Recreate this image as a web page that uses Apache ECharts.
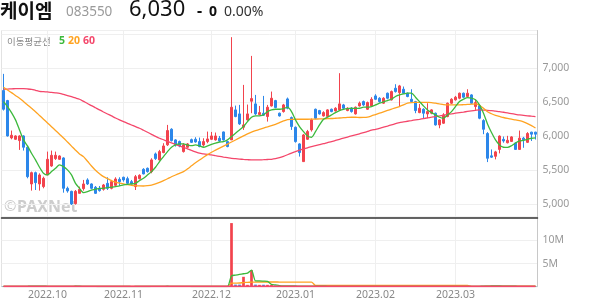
<!DOCTYPE html>
<html><head><meta charset="utf-8">
<script src="https://cdn.jsdelivr.net/npm/echarts@6/dist/echarts.min.js"></script>
<style>html,body{margin:0;padding:0;background:#fff}#c{width:594px;height:304px}</style>
</head><body><div id="c"></div>
<script>
const categories = [
'2022.09.16','2022.09.19','2022.09.20','2022.09.21','2022.09.22','2022.09.23','2022.09.26','2022.09.27','2022.09.28','2022.09.29','2022.09.30',
'2022.10.04','2022.10.05','2022.10.06','2022.10.07','2022.10.11','2022.10.12','2022.10.13','2022.10.14','2022.10.17','2022.10.18','2022.10.19','2022.10.20','2022.10.21','2022.10.24','2022.10.25','2022.10.26','2022.10.27','2022.10.28','2022.10.31',
'2022.11.01','2022.11.02','2022.11.03','2022.11.04','2022.11.07','2022.11.08','2022.11.09','2022.11.10','2022.11.11','2022.11.14','2022.11.15','2022.11.16','2022.11.17','2022.11.18','2022.11.21','2022.11.22','2022.11.23','2022.11.24','2022.11.25','2022.11.28','2022.11.29','2022.11.30',
'2022.12.01','2022.12.02','2022.12.05','2022.12.06','2022.12.07','2022.12.08','2022.12.09','2022.12.12','2022.12.13','2022.12.14','2022.12.15','2022.12.16','2022.12.19','2022.12.20','2022.12.21','2022.12.22','2022.12.23','2022.12.26','2022.12.27','2022.12.28','2022.12.29',
'2023.01.02','2023.01.03','2023.01.04','2023.01.05','2023.01.06','2023.01.09','2023.01.10','2023.01.11','2023.01.12','2023.01.13','2023.01.16','2023.01.17','2023.01.18','2023.01.19','2023.01.20','2023.01.25','2023.01.26','2023.01.27','2023.01.30','2023.01.31',
'2023.02.01','2023.02.02','2023.02.03','2023.02.06','2023.02.07','2023.02.08','2023.02.09','2023.02.10','2023.02.13','2023.02.14','2023.02.15','2023.02.16','2023.02.17','2023.02.20','2023.02.21','2023.02.22','2023.02.23','2023.02.24','2023.02.27','2023.02.28',
'2023.03.02','2023.03.03','2023.03.06','2023.03.07','2023.03.08','2023.03.09','2023.03.10','2023.03.13','2023.03.14','2023.03.15','2023.03.16','2023.03.17','2023.03.20','2023.03.21','2023.03.22','2023.03.23','2023.03.24','2023.03.27','2023.03.28','2023.03.29','2023.03.30'
];
// [open, close, low, high]
const ohlc = [
[6671,6396,6377,6916],[6524,6004,5995,6534],[5975,6014,5955,6083],[5955,6004,5946,6014],[5936,6004,5799,6014],[6004,5838,5789,6014],[5838,5406,5382,5857],[5299,5465,5201,5480],[5465,5318,5210,5480],[5299,5431,5201,5455],
[5260,5382,5235,5406],[5431,5661,5431,5774],[5563,5720,5550,5789],[5671,5720,5652,5774],[5661,5710,5652,5720],[5681,5235,5171,5691],[5235,5196,5171,5260],[5190,5005,4990,5200],[5010,5190,4995,5210],[5161,5220,5161,5260],
[5230,5299,5201,5358],[5358,5299,5284,5382],[5299,5235,5220,5308],[5250,5161,5152,5269],[5235,5201,5186,5269],[5220,5284,5201,5299],[5308,5235,5210,5397],[5235,5333,5220,5358],[5279,5372,5260,5397],[5367,5333,5269,5397],
[5397,5358,5333,5406],[5377,5308,5299,5406],[5333,5299,5290,5358],[5260,5406,5210,5431],[5377,5426,5367,5440],[5514,5446,5440,5530],[5529,5480,5465,5540],[5480,5652,5456,5676],[5740,5671,5652,5760],[5652,5774,5642,5799],
[5760,5857,5750,5897],[5873,6083,5857,6166],[6103,5936,5922,6117],[5946,5873,5848,5956],[5922,5857,5838,5936],[5774,5873,5760,5897],[5838,5887,5830,5900],[5950,5910,5900,5965],[5955,5916,5906,5985],[5921,5848,5838,5980],
[5872,5921,5848,5970],[5921,5960,5897,6068],[5955,6004,5946,6063],[5946,6004,5936,6054],[5970,5931,5916,6004],[6063,5946,5936,6068],[5921,5848,5838,5931],[5946,6426,5946,7455],[6387,6289,6279,6450],[6328,6181,6166,6460],
[6132,6166,6093,6754],[6240,6328,6230,6465],[6514,6553,6338,7180],[6475,6328,6313,6607],[6318,6347,6308,6445],[6338,6308,6298,6592],[6289,6426,6215,6460],[6445,6558,6436,6656],[6524,6421,6411,6534],[6338,6298,6289,6347],
[6362,6460,6347,6475],[6548,6411,6396,6568],[6274,6142,6093,6289],[6132,5921,5906,6142],[5887,5760,5701,5897],[5627,6019,5622,6034],[5955,6068,5946,6093],[6093,6240,6068,6260],[6396,6264,6250,6406],[6377,6328,6318,6387],
[6298,6347,6289,6367],[6289,6387,6279,6396],[6396,6362,6352,6406],[6372,6411,6362,6426],[6387,6475,6377,6926],[6460,6411,6396,6475],[6377,6411,6367,6426],[6411,6362,6347,6426],[6328,6426,6318,6436],[6445,6485,6436,6509],
[6509,6460,6445,6524],[6396,6494,6387,6509],[6445,6543,6436,6573],[6592,6543,6534,6617],[6558,6509,6494,6573],[6485,6558,6475,6573],[6632,6558,6543,6641],[6534,6656,6524,6671],[6705,6656,6641,6764],[6641,6739,6436,6754],
[6690,6632,6622,6730],[6632,6583,6573,6641],[6543,6509,6494,6690],[6509,6377,6338,6519],[6347,6411,6338,6475],[6396,6338,6264,6411],[6328,6362,6264,6485],[6338,6387,6323,6396],[6338,6166,6156,6347],[6166,6240,6117,6250],
[6191,6313,6181,6338],[6289,6485,6279,6494],[6485,6543,6475,6558],[6534,6573,6524,6592],[6558,6632,6543,6641],[6632,6573,6558,6641],[6583,6632,6573,6690],[6607,6485,6475,6617],[6436,6494,6387,6534],[6450,6264,6250,6465],
[6230,6102,6030,6250],[6040,5676,5620,6060],[5712,5692,5680,5806],[5705,5770,5660,5785],[5806,6002,5748,6012],[5954,5930,5905,5995],[5904,5940,5895,6006],[5924,5990,5915,6000],[5900,5806,5800,5910],[5806,5972,5800,6083],
[5972,5948,5830,5990],[5910,6040,5900,6060],[6060,6030,5930,6065],[6060,6030,5951,6065]
];
const ma5 = [
6509,6436,6347,6240,6093,5946,5857,5750,5652,5544,
5456,5431,5480,5529,5578,5554,5505,5431,5308,5235,
5171,5186,5210,5220,5235,5235,5245,5250,5260,5269,
5284,5294,5299,5308,5348,5382,5431,5480,5544,5627,
5701,5774,5838,5872,5887,5887,5872,5862,5872,5857,
5838,5857,5880,5900,5915,5921,5946,5995,6044,6093,
6142,6215,6279,6298,6300,6313,6362,6387,6396,6396,
6406,6426,6362,6240,6142,6068,6004,5985,6068,6166,
6249,6279,6313,6347,6377,6396,6406,6411,6408,6411,
6426,6426,6436,6460,6485,6504,6524,6543,6583,6607,
6622,6632,6632,6573,6509,6445,6387,6347,6313,6279,
6264,6313,6362,6436,6509,6543,6568,6558,6534,6460,
6338,6181,6054,5946,5872,5838,5835,5860,5900,5930,
5940,5955,5970,5975
];
const ma20 = [
6720,6680,6640,6598,6558,6510,6460,6410,6360,6305,
6250,6195,6140,6085,6030,5975,5915,5855,5795,5740,
5700,5632,5563,5500,5450,5406,5377,5348,5325,5310,
5299,5290,5280,5274,5270,5269,5274,5282,5300,5322,
5348,5375,5405,5430,5455,5480,5520,5565,5610,5650,
5690,5730,5765,5795,5825,5855,5885,5915,5945,5975,
6005,6035,6060,6082,6102,6120,6137,6155,6175,6200,
6225,6245,6248,6249,6249,6249,6249,6250,6252,6254,
6256,6258,6260,6264,6268,6272,6276,6279,6279,6275,
6276,6281,6298,6318,6338,6358,6378,6398,6418,6436,
6460,6485,6494,6496,6497,6497,6496,6494,6485,6475,
6465,6460,6460,6460,6460,6463,6467,6471,6475,6455,
6410,6360,6330,6305,6290,6275,6262,6250,6240,6228,
6210,6185,6155,6120
];
const ma60 = [
6690,6693,6696,6698,6700,6698,6694,6688,6675,6660,
6655,6650,6645,6638,6630,6615,6598,6580,6562,6543,
6512,6480,6450,6418,6386,6356,6327,6298,6268,6240,
6215,6190,6165,6140,6117,6088,6058,6028,5998,5970,
5948,5925,5902,5880,5858,5838,5815,5792,5770,5750,
5740,5732,5725,5714,5704,5694,5685,5676,5670,5664,
5659,5655,5652,5652,5653,5655,5658,5661,5670,5685,
5705,5728,5752,5775,5795,5812,5830,5848,5862,5876,
5890,5906,5921,5938,5955,5972,5988,6004,6020,6036,
6052,6070,6088,6102,6117,6134,6150,6167,6184,6200,
6210,6220,6230,6240,6249,6259,6269,6279,6289,6298,
6308,6318,6328,6338,6347,6355,6364,6372,6380,6387,
6384,6380,6375,6368,6362,6352,6342,6332,6322,6313,
6307,6300,6294,6289
];
const volumes = [
82000,95000,60000,45000,70000,88000,150000,120000,90000,75000,
60000,110000,95000,55000,40000,130000,70000,115000,100000,60000,
55000,45000,40000,50000,35000,40000,45000,50000,45000,35000,
30000,35000,30000,60000,40000,45000,35000,80000,50000,70000,
75000,140000,90000,60000,45000,55000,40000,35000,40000,45000,
40000,55000,50000,45000,40000,50000,45000,13750000,450000,450000,
2140000,400000,3600000,450000,400000,420000,400000,380000,250000,120000,
110000,120000,130000,140000,140000,150000,110000,100000,90000,80000,
70000,75000,60000,65000,130000,70000,60000,55000,65000,70000,
60000,75000,80000,65000,55000,60000,70000,85000,95000,110000,
80000,60000,75000,90000,70000,65000,80000,55000,95000,70000,
75000,110000,80000,70000,85000,65000,75000,80000,90000,120000,
130000,150000,120000,110000,140000,70000,60000,65000,80000,100000,
70000,85000,60000,50000
];
const volMa5 = [
90000,85000,80000,78000,70000,72000,90000,105000,105000,105000,
107000,91000,90000,87000,72000,86000,78000,82000,93000,95000,
80000,67000,60000,50000,45000,42000,42000,44000,45000,43000,
41000,41000,37000,38000,39000,42000,43000,52000,50000,56000,
62000,93000,89000,91000,86000,82000,60000,47000,43000,43000,
41000,43000,46000,47000,46000,48000,47000,2350000,2500000,2650000,
2800000,2950000,3600000,1250000,1250000,1200000,1150000,500000,380000,250000,
180000,160000,150000,150000,140000,140000,140000,130000,120000,110000,
100000,90000,80000,75000,80000,80000,75000,70000,70000,62000,
62000,64000,70000,70000,67000,67000,66000,63000,73000,83000,
88000,86000,84000,83000,75000,72000,76000,72000,73000,72000,
73000,79000,78000,82000,84000,82000,78000,75000,79000,86000,
101000,130000,150000,158000,156000,130000,102000,101000,97000,79000,
75000,80000,79000,73000
];
const volMa20 = [
85000,85000,84000,84000,83000,83000,85000,87000,88000,88000,
88000,89000,90000,89000,88000,90000,90000,91000,92000,91000,
89000,87000,85000,82000,80000,77000,75000,71000,68000,65000,
62000,58000,55000,56000,56000,55000,55000,56000,57000,58000,
60000,66000,68000,69000,69000,70000,70000,70000,71000,71000,
69000,70000,71000,70000,68000,67000,65000,750000,780000,800000,
900000,930000,1000000,1010000,1020000,1020000,1020000,1020000,1020000,1010000,
1010000,1000000,1000000,1000000,1000000,1000000,1000000,1000000,290000,285000,
280000,280000,278000,276000,280000,279000,278000,277000,276000,276000,
275000,275000,276000,275000,274000,274000,275000,276000,277000,278000,
278000,277000,277000,278000,277000,277000,278000,277000,278000,278000,
278000,280000,280000,279000,280000,279000,279000,85000,86000,88000,
90000,96000,97000,98000,101000,101000,100000,99000,98000,98000,
97000,97000,96000,95000
];
const volMa60 = [
52000,52000,51000,51000,51000,52000,53000,54000,54000,54000,
54000,55000,55000,55000,55000,56000,56000,56000,57000,57000,
57000,56000,56000,56000,55000,55000,55000,54000,54000,53000,
53000,52000,52000,52000,52000,51000,51000,51000,51000,51000,
52000,53000,53000,53000,53000,53000,52000,52000,52000,52000,
52000,52000,52000,52000,52000,52000,52000,60000,61000,62000,
63000,63000,64000,64000,64000,65000,65000,65000,65000,65000,
65000,66000,66000,66000,66000,67000,67000,67000,67000,67000,
67000,67000,67000,68000,68000,68000,68000,68000,68000,68000,
68000,68000,69000,69000,69000,69000,69000,69000,69000,70000,
70000,70000,70000,70000,70000,70000,71000,71000,71000,71000,
71000,72000,72000,72000,72000,72000,72000,72000,73000,73000,
73000,74000,74000,74000,75000,75000,75000,75000,75000,76000,
76000,76000,76000,76000
];
const monthStarts = [11, 30, 52, 73, 93, 113];
const monthLabels = ['2022.10', '2022.11', '2022.12', '2023.01', '2023.02', '2023.03'];
const priceTicks = [5000, 5500, 6000, 6500, 7000];
const volTicks = [5000000, 10000000];
const volTickLabels = ['5M', '10M'];

const UP = '#f2434d', DOWN = '#2c87ea';
const C5 = '#3cb93c', C20 = '#ffa321', C60 = '#f4476b';
const FONT = '"Noto Sans", "Noto Sans CJK KR", sans-serif';
const GRIDC = '#efefef';

const chart = echarts.init(document.getElementById('c'), null, {renderer: 'canvas'});
const isMonth = (i) => monthStarts.indexOf(i) >= 0;

const lineSeries = (name, data, color, xi, yi, w) => ({
  name, type: 'line', data, xAxisIndex: xi, yAxisIndex: yi,
  showSymbol: false, symbol: 'none', smooth: 0.25, silent: true,
  lineStyle: {color, width: w}, itemStyle: {color}
});

chart.setOption({
  animation: false,
  backgroundColor: '#fff',
  grid: [
    {left: 1.5, right: 56.5, top: 30.5, height: 186.8, show: true, borderColor: '#e2e2e2', borderWidth: 1},
    {left: 1.5, right: 56.5, top: 217.3, height: 69.4, show: true, borderColor: '#e2e2e2', borderWidth: 1}
  ],
  xAxis: [
    {type: 'category', gridIndex: 0, data: categories, boundaryGap: true,
     axisLine: {show: true, lineStyle: {color: '#333', width: 1.5}}, axisTick: {show: false}, axisLabel: {show: false},
     splitLine: {show: true, interval: isMonth, alignWithLabel: true, lineStyle: {color: GRIDC, width: 1}}},
    {type: 'category', gridIndex: 1, data: categories, boundaryGap: true,
     axisLine: {show: true, lineStyle: {color: '#cfcfcf', width: 1}}, axisTick: {show: false},
     axisLabel: {interval: isMonth, formatter: (v, i) => monthLabels[monthStarts.indexOf(i)] || '',
       color: '#888', fontSize: 10.5, fontFamily: FONT, margin: 3},
     splitLine: {show: true, interval: isMonth, alignWithLabel: true, lineStyle: {color: GRIDC, width: 1}}}
  ],
  yAxis: [
    {type: 'value', gridIndex: 0, position: 'right', min: 4809, max: 7553, splitNumber: 5,
     axisLine: {show: true, lineStyle: {color: '#c8c8c8'}}, axisTick: {show: false},
     splitLine: {show: true, lineStyle: {color: GRIDC}},
     axisLabel: {color: '#999', fontSize: 10.5, fontFamily: FONT, margin: 5, showMinLabel: false, showMaxLabel: false,
       padding: [4, 0, 0, 0],
       formatter: (v) => priceTicks.indexOf(v) >= 0 ? v.toLocaleString('en-US') : ''}},
    {type: 'value', gridIndex: 1, position: 'right', min: 0, max: 15000000, interval: 5000000,
     axisLine: {show: true, lineStyle: {color: '#c8c8c8'}}, axisTick: {show: false},
     splitLine: {show: true, lineStyle: {color: GRIDC}},
     axisLabel: {color: '#999', fontSize: 10.5, fontFamily: FONT, margin: 5, padding: [2, 0, 0, 0],
       formatter: (v) => { const j = volTicks.indexOf(v); return j >= 0 ? volTickLabels[j] : ''; }}}
  ],
  graphic: [
    {type: 'text', x: 0, y: 11, style: {text: '케이엠', font: 'bold 19px "Noto Sans CJK KR"', fill: '#111', verticalAlign: 'middle'}},
    {type: 'text', x: 66, y: 12, style: {text: '083550', font: '13.5px "Noto Sans"', fill: '#9a9a9a', verticalAlign: 'middle'}},
    {type: 'text', x: 129, y: 10, style: {text: '6,030', font: '22px "Noto Sans"', fill: '#111', verticalAlign: 'middle'}},
    {type: 'text', x: 197, y: 11, style: {text: '-', font: 'bold 16px "Noto Sans"', fill: '#111', verticalAlign: 'middle'}},
    {type: 'text', x: 209, y: 12, style: {text: '0', font: 'bold 14px "Noto Sans"', fill: '#111', verticalAlign: 'middle'}},
    {type: 'text', x: 224, y: 12, style: {text: '0.00%', font: '14px "Noto Sans"', fill: '#333', verticalAlign: 'middle'}},
    {type: 'text', x: 7, y: 41, style: {text: '이동평균선', font: '9.5px "Noto Sans CJK KR"', fill: '#888', verticalAlign: 'middle'}},
    {type: 'text', x: 59, y: 41, style: {text: '5', font: 'bold 10.5px "Noto Sans"', fill: C5, verticalAlign: 'middle'}},
    {type: 'text', x: 68, y: 41, style: {text: '20', font: 'bold 10.5px "Noto Sans"', fill: C20, verticalAlign: 'middle'}},
    {type: 'text', x: 83, y: 41, style: {text: '60', font: 'bold 10.5px "Noto Sans"', fill: C60, verticalAlign: 'middle'}},
    {type: 'text', x: 4, y: 207, z: -1, style: {text: '©', font: '15px "Noto Sans"', fill: '#cdcdcd', verticalAlign: 'middle'}},
    {type: 'text', x: 17, y: 207, z: -1, style: {text: 'PAXNet', font: 'bold 16px "Noto Sans"', fill: '#cdcdcd', verticalAlign: 'middle'}}
  ],
  series: [
    {type: 'candlestick', name: 'price', xAxisIndex: 0, yAxisIndex: 0, data: ohlc, barWidth: 2.6, silent: true,
     itemStyle: {color: UP, color0: DOWN, borderColor: UP, borderColor0: DOWN, borderWidth: 1}},
    lineSeries('MA60', ma60, C60, 0, 0, 1.3),
    lineSeries('MA20', ma20, C20, 0, 0, 1.3),
    lineSeries('MA5', ma5, C5, 0, 0, 1.3),
    {type: 'bar', name: 'volume', xAxisIndex: 1, yAxisIndex: 1, barWidth: 2.7, silent: true,
     data: volumes.map((v, i) => ({value: v, itemStyle: {color: ohlc[i][1] >= ohlc[i][0] ? UP : DOWN}}))},
    lineSeries('VMA20', volMa20, C20, 1, 1, 1.3),
    lineSeries('VMA5', volMa5, C5, 1, 1, 1.3),
    lineSeries('VMA60', volMa60, C60, 1, 1, 1.8)
  ]
});
</script>
</body></html>
